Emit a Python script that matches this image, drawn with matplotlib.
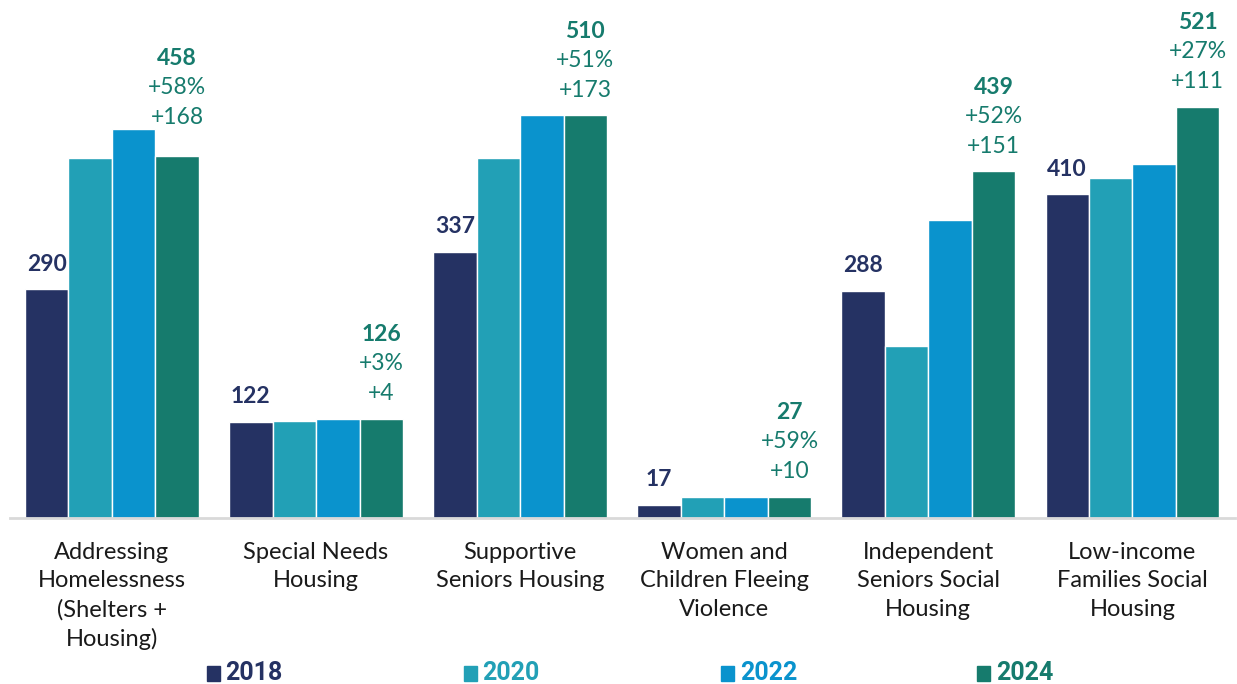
import matplotlib
matplotlib.use("Agg")
import matplotlib.pyplot as plt
import numpy as np

# Dati
categories = [
    "Addressing\nHomelessness\n(Shelters +\nHousing)",
    "Special Needs\nHousing",
    "Supportive\nSeniors Housing",
    "Women and\nChildren Fleeing\nViolence",
    "Independent\nSeniors Social\nHousing",
    "Low-income\nFamilies Social\nHousing",
]
years = ["2018", "2020", "2022", "2024"]
v2018 = [290, 122, 337, 17, 288, 410]
v2020 = [456, 123, 456, 27, 218, 430]
v2022 = [493, 125, 510, 27, 378, 448]
v2024 = [458, 126, 510, 27, 439, 521]

colors = ["#253263", "#22a0b6", "#0a93cd", "#167b6d"]
series = [v2018, v2020, v2022, v2024]

# spostamento extra (pt) delle etichette 2024 per gruppo
lift = [10, 0, 0, 0, 0, 0]

plt.rcParams['font.family'] = ['Lato', 'DejaVu Sans']

fig = plt.figure(figsize=(12.37, 6.84), dpi=100)
ax = fig.add_axes([0.008, 0.2427, 0.99, 0.7573])

x = np.arange(len(categories))
w = 0.213
offsets = [-1.5, -0.5, 0.5, 1.5]
for vals, col, off in zip(series, colors, offsets):
    ax.bar(x + off * w, vals, width=w, color=col, edgecolor="white", linewidth=1.0)

# etichette
for i in range(len(categories)):
    a = v2018[i]
    b = v2024[i]
    ax.annotate(str(a), (x[i] - 1.5 * w, a), xytext=(0, 18), textcoords="offset points",
                ha="center", va="center", fontsize=16.5, fontweight="bold", color=colors[0])
    pct = round((b - a) / a * 100)
    diff = b - a
    lines = [(f"+{diff}", 18, "normal"), (f"+{pct}%", 39.5, "normal"), (str(b), 60.5, "bold")]
    for txt, dy, fw in lines:
        ax.annotate(txt, (x[i] + 1.5 * w, b), xytext=(0, dy + lift[i]), textcoords="offset points",
                    ha="center", va="center", fontsize=16.5, fontweight=fw, color=colors[3])

ax.set_xlim(-0.5, 5.5)
ax.set_ylim(0, 656)
ax.set_yticks([])
ax.set_xticks(x)
ax.set_xticklabels(categories, fontsize=17, color="#1a1a1a", linespacing=1.42, va="top")
ax.tick_params(axis="x", length=0, pad=17.5)
for s in ["top", "right", "left"]:
    ax.spines[s].set_visible(False)
ax.spines["bottom"].set_color("#d9d9d9")
ax.spines["bottom"].set_linewidth(2)

# Legenda
leg_x = [0.167, 0.375, 0.583, 0.790]
for lx, yr, col in zip(leg_x, years, colors):
    fig.patches.append(plt.Rectangle((lx, 0.005), 0.0105, 0.021, transform=fig.transFigure,
                                     color=col, figure=fig))
    fig.text(lx + 0.015, 0.016, yr, color=col, fontsize=18, fontweight="bold",
             ha="left", va="center", family=["Roboto", "DejaVu Sans"])

fig.savefig("out.png", dpi=100)
